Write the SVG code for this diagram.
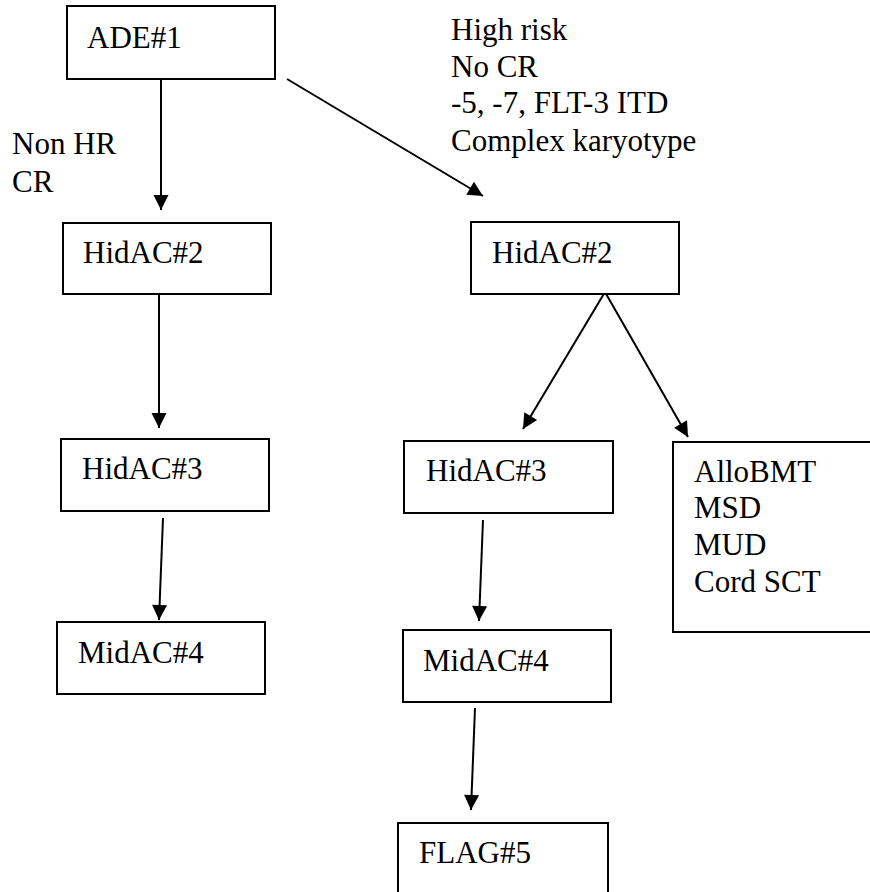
<svg xmlns="http://www.w3.org/2000/svg" width="870" height="892" viewBox="0 0 870 892">
<style>
.box{fill:#fff;stroke:#000;stroke-width:2}
.c{stroke:#000;stroke-width:2;fill:none;marker-end:url(#ah)}
</style>
<defs>
<marker id="ah" markerUnits="userSpaceOnUse" markerWidth="18" markerHeight="18" viewBox="0 0 18 18" refX="16" refY="9" orient="auto">
<path d="M1,1.5 L16,9 L1,16.5 Z" fill="#000"/>
</marker>
</defs>
<rect width="870" height="892" fill="#fff"/>
<g id="connectors">
<line class="c" x1="161" y1="80" x2="161" y2="210"/>
<line class="c" x1="287" y1="79" x2="483" y2="196"/>
<line class="c" x1="159" y1="295" x2="159" y2="428"/>
<line class="c" x1="163" y1="518" x2="159" y2="620"/>
<line class="c" x1="605" y1="292" x2="523" y2="429"/>
<line class="c" x1="605" y1="292" x2="688" y2="437"/>
<line class="c" x1="483" y1="520" x2="479" y2="621"/>
<line class="c" x1="475" y1="708" x2="471" y2="810"/>
</g>
<g font-family="Liberation Serif, Times New Roman, serif" font-size="31" fill="#000">
<g id="label-left">
<text x="12" y="154">Non HR</text>
<text x="12" y="192">CR</text>
</g>
<g id="label-right">
<text x="451" y="40">High risk</text>
<text x="451" y="77">No CR</text>
<text x="451" y="113">-5, -7, FLT-3 ITD</text>
<text x="451" y="151">Complex karyotype</text>
</g>
<g id="ade1"><rect class="box" x="67" y="6" width="208" height="73"/><text x="87" y="48">ADE#1</text></g>
<g id="hidac2-left"><rect class="box" x="63" y="223" width="208" height="71"/><text x="83" y="263">HidAC#2</text></g>
<g id="hidac3-left"><rect class="box" x="61" y="439" width="208" height="72"/><text x="82" y="479">HidAC#3</text></g>
<g id="midac4-left"><rect class="box" x="57" y="622" width="208" height="72"/><text x="78" y="663">MidAC#4</text></g>
<g id="hidac2-right"><rect class="box" x="471" y="222" width="208" height="72"/><text x="492" y="263">HidAC#2</text></g>
<g id="hidac3-right"><rect class="box" x="404" y="441" width="209" height="72"/><text x="426" y="481">HidAC#3</text></g>
<g id="allobmt"><rect class="box" x="673" y="442" width="220" height="190"/>
<text x="694" y="482">AlloBMT</text>
<text x="694" y="518">MSD</text>
<text x="694" y="555">MUD</text>
<text x="694" y="592">Cord SCT</text></g>
<g id="midac4-right"><rect class="box" x="403" y="630" width="208" height="72"/><text x="423" y="671">MidAC#4</text></g>
<g id="flag5"><rect class="box" x="398" y="823" width="210" height="90"/><text x="419" y="863">FLAG#5</text></g>
</g>
</svg>
